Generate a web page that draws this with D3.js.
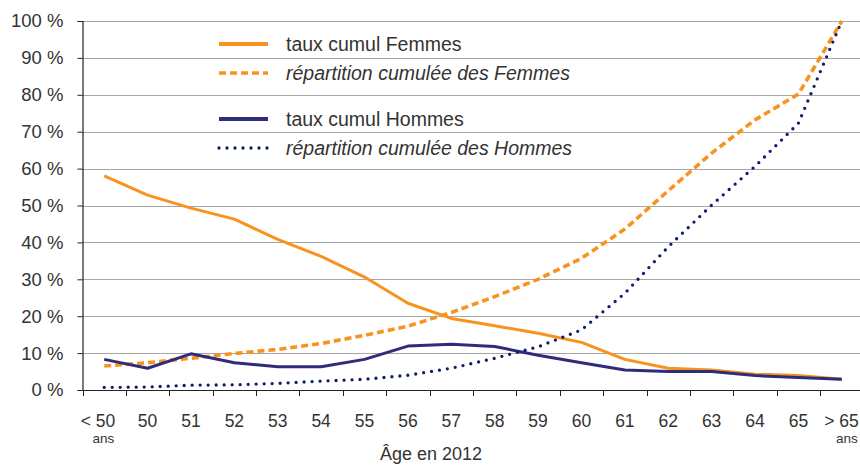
<!DOCTYPE html>
<html>
<head>
<meta charset="utf-8">
<script src="https://cdn.jsdelivr.net/npm/d3@7/dist/d3.min.js"></script>
<style>
  html, body { margin: 0; padding: 0; background: #fff; }
  svg { display: block; }
  text { font-family: "Liberation Sans", Arial, sans-serif; fill: #333; }
  .narrow { font-family: "Liberation Sans Narrow", "Liberation Sans", Arial, sans-serif; }
</style>
</head>
<body>
<svg id="chart" width="860" height="465"></svg>
<script>
// ---- data ----
const categories = ["< 50", "50", "51", "52", "53", "54", "55", "56", "57", "58", "59", "60", "61", "62", "63", "64", "65", "> 65"];
const subLabels  = ["ans", "", "", "", "", "", "", "", "", "", "", "", "", "", "", "", "", "ans"];
const tauxFemmes = [58.0, 52.8, 49.3, 46.3, 40.8, 36.2, 30.6, 23.5, 19.4, 17.4, 15.4, 12.9, 8.3, 5.9, 5.4, 4.3, 3.9, 2.9];
const repartFemmes = [6.5, 7.4, 8.6, 9.9, 11.0, 12.6, 14.8, 17.3, 21.0, 25.3, 30.0, 35.7, 43.6, 54.0, 64.2, 73.2, 80.2, 100];
const tauxHommes = [8.3, 5.9, 9.8, 7.4, 6.3, 6.3, 8.3, 11.9, 12.4, 11.8, 9.4, 7.4, 5.4, 5.0, 5.0, 3.9, 3.4, 2.9];
const repartHommes = [0.7, 0.8, 1.3, 1.4, 1.8, 2.4, 2.9, 4.0, 5.9, 8.6, 11.7, 16.3, 26.2, 38.8, 50.1, 60.6, 72.3, 100];
const yTicks = [0, 10, 20, 30, 40, 50, 60, 70, 80, 90, 100];
const legendLabels = ["taux cumul Femmes", "répartition cumulée des Femmes", "taux cumul Hommes", "répartition cumulée des Hommes"];
const xTitle = "Âge en 2012";

const ORANGE = "#F7931E", NAVY = "#302C7C", NAVYDOT = "#0C1D6B";

const series = [
  { name: legendLabels[0], values: tauxFemmes,   color: ORANGE,  width: 3,   dash: null,   cap: "butt",  italic: false },
  { name: legendLabels[1], values: repartFemmes, color: ORANGE,  width: 3.6, dash: "7,4",  cap: "butt",  italic: true },
  { name: legendLabels[2], values: tauxHommes,   color: NAVY,    width: 3,   dash: null,   cap: "butt",  italic: false },
  { name: legendLabels[3], values: repartHommes, color: NAVYDOT, width: 3.3, dash: "0,8",  cap: "round", italic: true }
];

// ---- layout ----
const svg = d3.select("#chart");
const mLeft = 82.5, mRight = 863.5, mTop = 21, mBottom = 390;

const x = d3.scaleBand().domain(categories).range([mLeft, mRight]).padding(0);
const y = d3.scaleLinear().domain([0, 100]).range([mBottom, mTop]);

// gridlines
svg.append("g").selectAll("line").data(yTicks.filter(d => d > 0)).join("line")
  .attr("x1", mLeft).attr("x2", 860)
  .attr("y1", d => Math.round(y(d)) + 0.5).attr("y2", d => Math.round(y(d)) + 0.5)
  .attr("stroke", "#a6a6a6").attr("stroke-width", 1);

// y axis
const yAxis = d3.axisLeft(y).tickValues(yTicks).tickSize(5).tickPadding(14).tickFormat(d => d + " %");
const gy = svg.append("g").attr("transform", `translate(${mLeft},0)`).call(yAxis);
gy.select(".domain").attr("stroke", "#222").attr("stroke-width", 1.2);
gy.selectAll(".tick line").attr("stroke", "#222");
gy.selectAll(".tick text").style("font-size", "18.5px").style("fill", "#333")
  .style("font-family", '"Liberation Sans", Arial, sans-serif');

// x axis line
svg.append("line").attr("x1", mLeft).attr("x2", 860).attr("y1", mBottom + 0.5).attr("y2", mBottom + 0.5)
  .attr("stroke", "#222").attr("stroke-width", 1.2);
// ticks at band boundaries
svg.append("g").selectAll("line").data(categories).join("line")
  .attr("x1", d => Math.round(x(d)) + 0.5).attr("x2", d => Math.round(x(d)) + 0.5)
  .attr("y1", mBottom).attr("y2", mBottom + 6)
  .attr("stroke", "#222").attr("stroke-width", 1);

// x labels
const cx = d => x(d) + x.bandwidth() / 2;
const gl = svg.append("g");
categories.forEach((c, i) => {
  const isEdge = subLabels[i] !== "";
  const xx = isEdge ? cx(c) + (i === 0 ? 11 : 17) : cx(c);
  gl.append("text").attr("class", "narrow")
    .attr("x", xx).attr("y", 427)
    .attr("text-anchor", isEdge ? "end" : "middle")
    .style("font-size", "17.5px").text(c);
  if (isEdge) {
    gl.append("text").attr("class", "narrow")
      .attr("x", xx - 1).attr("y", 443)
      .attr("text-anchor", "end")
      .style("font-size", "13.5px").text(subLabels[i]);
  }
});

// x title
svg.append("text").attr("x", 431).attr("y", 460).attr("text-anchor", "middle")
  .style("font-size", "18px").text(xTitle);

// lines
const line = d3.line().x((d, i) => cx(categories[i])).y(d => y(d));
series.forEach(s => {
  svg.append("path").datum(s.values)
    .attr("d", line)
    .attr("fill", "none")
    .attr("stroke", s.color)
    .attr("stroke-width", s.width)
    .attr("stroke-linejoin", "round")
    .attr("stroke-linecap", s.cap)
    .attr("stroke-dasharray", s.dash);
});

// legend
const legendY = [44, 73, 119, 148];
const lg = svg.append("g");
series.forEach((s, i) => {
  lg.append("line")
    .attr("x1", 219).attr("x2", 268)
    .attr("y1", legendY[i]).attr("y2", legendY[i])
    .attr("stroke", s.color)
    .attr("stroke-width", s.dash ? s.width : 4)
    .attr("stroke-linecap", s.cap)
    .attr("stroke-dasharray", s.dash);
  lg.append("text")
    .attr("x", 286).attr("y", legendY[i] + 6.5)
    .style("font-size", "19.5px")
    .style("font-style", s.italic ? "italic" : "normal")
    .text(s.name);
});
</script>
</body>
</html>
